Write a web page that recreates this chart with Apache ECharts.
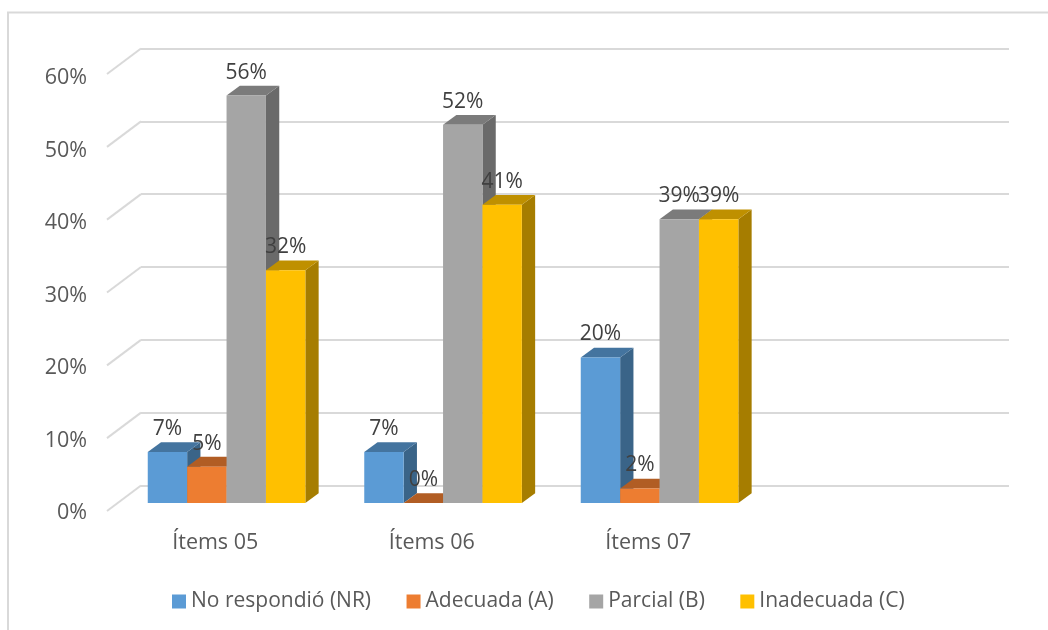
<!DOCTYPE html>
<html><head><meta charset="utf-8">
<style>html,body{margin:0;padding:0;background:#fff}#c{width:1048px;height:630px}</style>
<script src="https://cdn.jsdelivr.net/npm/echarts@6/dist/echarts.min.js"></script>
</head><body><div id="c"></div>
<script>
const categories = ['Ítems 05', 'Ítems 06', 'Ítems 07', ''];
const seriesNames = ['No respondió (NR)', 'Adecuada (A)', 'Parcial (B)', 'Inadecuada (C)'];
const noResponde = [7, 7, 20];
const adecuada = [5, 0, 2];
const parcial = [56, 52, 39];
const inadecuada = [32, 41, 39];
const valueTicks = [0, 10, 20, 30, 40, 50, 60];

const FONT = '"Open Sans","Noto Sans",sans-serif';
const values = [noResponde, adecuada, parcial, inadecuada];
const front = ['#5b9bd5', '#ed7d31', '#a5a5a5', '#ffc000'];
const top_ = ['#44749f', '#b15d24', '#7b7b7b', '#bf9000'];
const side = ['#3a6488', '#9a5120', '#6a6a6a', '#a67d00'];
const DX = 13.3, DY = 9.8, BAR = 39.4;

function barRenderer(si) {
  return function (params, api) {
    const cat = api.value(0), val = api.value(1);
    const p = api.coord([cat, val]), b = api.coord([cat, 0]);
    const x0 = p[0] - BAR * 2 + si * BAR;
    const x1 = x0 + BAR, yt = p[1], yb = b[1];
    const poly = (pts, fill) => ({type: 'polygon', shape: {points: pts}, style: {fill: fill}});
    return {type: 'group', children: [
      poly([[x1, yt], [x1 + DX, yt - DY], [x1 + DX, yb - DY], [x1, yb]], side[si]),
      poly([[x0, yt], [x0 + DX, yt - DY], [x1 + DX, yt - DY], [x1, yt]], top_[si]),
      poly([[x0, yt], [x1, yt], [x1, yb], [x0, yb]], front[si]),
      {type: 'text', z2: 50, style: {text: val + '%', x: (x0 + x1) / 2, y: yt - 23, fill: '#404040',
        font: '21px ' + FONT, align: 'center', verticalAlign: 'middle'}}
    ]};
  };
}

const series = [];
seriesNames.forEach((name, si) => {
  series.push({
    name: name, type: 'custom', xAxisIndex: 2, yAxisIndex: 2, z: 5 + si,
    itemStyle: {color: front[si]},
    data: values[si].map((v, i) => [i, v]),
    encode: {x: 0, y: 1},
    renderItem: barRenderer(si)
  });
});
// diagonal floor ticks joining the front labels to the back wall
series.push({
  type: 'custom', xAxisIndex: 1, yAxisIndex: 1, z: 1, silent: true,
  data: valueTicks.map(v => [0, v]), encode: {y: 1},
  renderItem: function (params, api) {
    const p = api.coord([0, api.value(1)]);
    const x = p[0] - api.size([1, 0])[0] / 2;
    return {type: 'line', shape: {x1: x, y1: p[1], x2: x + 34, y2: p[1] - 25.5},
      style: {stroke: '#d9d9d9', lineWidth: 2}};
  }
});

const hiddenCat = (gi, show) => ({gridIndex: gi, type: 'category', data: categories, show: show,
  axisLine: {show: false}, axisTick: {show: false},
  axisLabel: {color: '#595959', fontSize: 21.5, fontFamily: FONT, margin: 21}});

const chart = echarts.init(document.getElementById('c'), null, {renderer: 'canvas'});
chart.setOption({
  animation: false,
  backgroundColor: '#fff',
  graphic: [
    {type: 'polyline', silent: true, shape: {points: [[8, 630], [8, 12.5], [1048, 12.5]]},
      style: {stroke: '#d9d9d9', lineWidth: 2, fill: null}}
  ],
  grid: [
    {left: 141, width: 868, top: 48.5, height: 437},
    {left: 107, width: 866, top: 74, height: 437},
    {left: 118.3, width: 866, top: 66.5, height: 436.5},
    {left: 107, width: 866, top: 78, height: 435}
  ],
  xAxis: [hiddenCat(0, false), hiddenCat(1, true), hiddenCat(2, false), hiddenCat(3, false)],
  yAxis: [
    {gridIndex: 0, type: 'value', min: 0, max: 60, interval: 10, axisLabel: {show: false},
      axisLine: {show: false}, axisTick: {show: false},
      splitLine: {show: true, lineStyle: {color: '#d9d9d9', width: 2}}},
    {gridIndex: 1, type: 'value', min: 0, max: 60, interval: 10, show: false},
    {gridIndex: 2, type: 'value', min: 0, max: 60, interval: 10, show: false},
    {gridIndex: 3, type: 'value', min: 0, max: 60, interval: 10, splitLine: {show: false},
      axisLine: {show: false}, axisTick: {show: false},
      axisLabel: {formatter: '{value}%', color: '#595959', fontSize: 21.5, fontFamily: FONT, margin: 20}}
  ],
  legend: {
    data: seriesNames, bottom: 13, left: 167, itemWidth: 14, itemHeight: 14, itemGap: 35.5,
    icon: 'rect', textStyle: {color: '#595959', fontSize: 21, fontFamily: FONT}
  },
  series: series
});
</script></body></html>
